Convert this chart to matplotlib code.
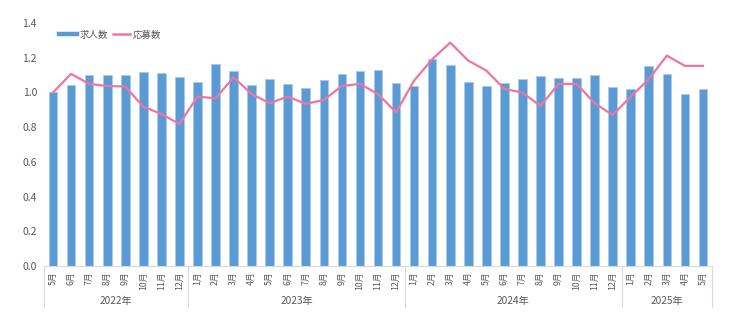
import numpy as np
import matplotlib
matplotlib.use("Agg")
import matplotlib.pyplot as plt
from matplotlib.lines import Line2D
import matplotlib.transforms as mtransforms

plt.rcParams['font.family'] = ['Noto Sans CJK JP', 'DejaVu Sans']

# monthly index, 2022/5 - 2025/5
months = ['5月', '6月', '7月', '8月', '9月', '10月', '11月', '12月',
          '1月', '2月', '3月', '4月', '5月', '6月', '7月', '8月', '9月', '10月', '11月', '12月',
          '1月', '2月', '3月', '4月', '5月', '6月', '7月', '8月', '9月', '10月', '11月', '12月',
          '1月', '2月', '3月', '4月', '5月']
years = ['2022年', '2023年', '2024年', '2025年']
year_sizes = [8, 12, 12, 5]

kyujin = [1.00, 1.043, 1.103, 1.099, 1.101, 1.118, 1.114, 1.090,
          1.059, 1.163, 1.122, 1.043, 1.080, 1.051, 1.028, 1.072, 1.108, 1.124, 1.131, 1.053,
          1.039, 1.193, 1.157, 1.059, 1.037, 1.053, 1.076, 1.095, 1.082, 1.082, 1.099, 1.033,
          1.018, 1.155, 1.107, 0.990, 1.018]
oubo = [1.00, 1.107, 1.049, 1.037, 1.034, 0.918, 0.876, 0.818,
        0.976, 0.966, 1.087, 0.991, 0.938, 0.976, 0.934, 0.957, 1.037, 1.049, 0.990, 0.886,
        1.068, 1.191, 1.287, 1.183, 1.126, 1.020, 0.999, 0.922, 1.049, 1.049, 0.938, 0.870,
        0.976, 1.076, 1.212, 1.153, 1.153]

blue = '#5B9BD5'
pink = '#F0759E'
gray = '#595959'
sep = '#D9D9D9'

fig = plt.figure(figsize=(7.34, 3.32), dpi=100)
ax = fig.add_axes([44 / 734, 1 - 266 / 332, 668 / 734, 243 / 332])

x = np.arange(len(months))
ax.bar(x, kyujin, width=0.48, color=blue, edgecolor='#A9CBEA', linewidth=0.6, zorder=2)
ax.plot(x, oubo, color=pink, linewidth=1.6, zorder=3)

ax.set_xlim(-0.5, len(months) - 0.5)
ax.set_ylim(0, 1.4)
ax.set_yticks(np.arange(0, 1.41, 0.2))
ax.set_yticklabels([f'{v:.1f}' for v in np.arange(0, 1.41, 0.2)])
ax.tick_params(axis='y', length=0, pad=5, labelsize=7.5, labelcolor=gray)

ax.set_xticks(x)
ax.set_xticklabels(months, rotation=90, va='top', ha='center')
ax.tick_params(axis='x', length=0, pad=4, labelsize=6.3, labelcolor=gray)

for s in ['top', 'right', 'left']:
    ax.spines[s].set_visible(False)
ax.spines['bottom'].set_color(sep)
ax.spines['bottom'].set_linewidth(0.8)

# year groups under the month labels
trans = mtransforms.blended_transform_factory(ax.transData, ax.transAxes)
bounds = np.concatenate([[0], np.cumsum(year_sizes)]) - 0.5
for b in bounds:
    ax.add_line(Line2D([b, b], [0, -0.169], transform=trans, color=sep,
                       linewidth=0.8, clip_on=False))
for i, yr in enumerate(years):
    mid = (bounds[i] + bounds[i + 1]) / 2
    ax.text(mid, -0.144, yr, transform=trans, ha='center', va='center',
            fontsize=7.3, color=gray)

handles = [Line2D([], [], color=blue, linewidth=3.2),
           Line2D([], [], color=pink, linewidth=1.8)]
ax.legend(handles, ['求人数', '応募数'], loc='center left', ncol=2,
          bbox_to_anchor=(59 / 734, 1 - 35 / 332), bbox_transform=fig.transFigure,
          frameon=False, fontsize=6.8, labelcolor=gray, handlelength=1.9,
          handletextpad=0.25, columnspacing=0.5, borderaxespad=0, borderpad=0)

fig.savefig('out.png', dpi=100)
